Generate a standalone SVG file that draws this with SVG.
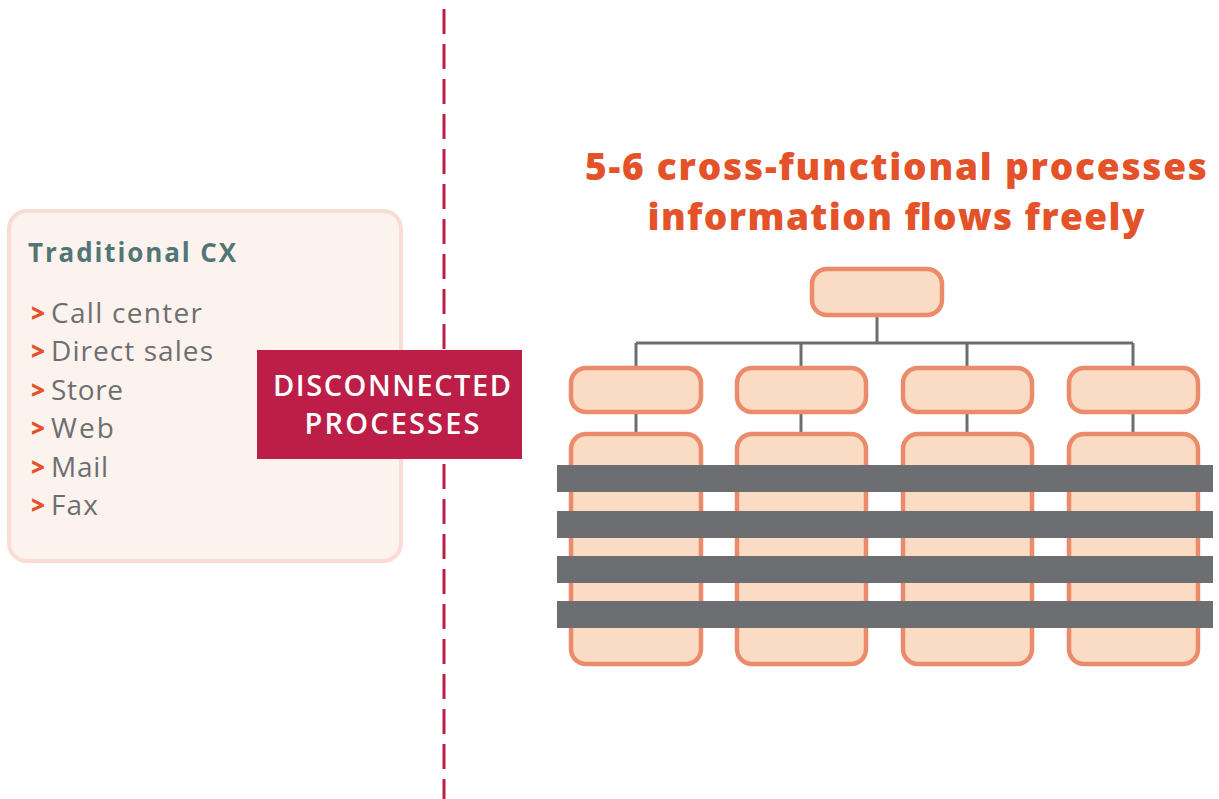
<svg xmlns="http://www.w3.org/2000/svg" width="1219" height="799" viewBox="0 0 1219 799">
<style>
.box{fill:#fadcc4;stroke:#ec8b6c;stroke-width:4.5}
.conn{stroke:#6d6e71;stroke-width:3;fill:none}
.bar{fill:#6d6e71}
.item{font-family:"Open Sans","Liberation Sans",sans-serif;font-size:28px;fill:#6d6e71}
.gt{font-family:"Open Sans","Liberation Sans",sans-serif;font-size:24px;font-weight:800;fill:#e4522a}
.title{font-family:"Open Sans","Liberation Sans",sans-serif;font-size:37px;font-weight:800;fill:#e4522a;text-anchor:middle}
.dis{font-family:"Open Sans","Liberation Sans",sans-serif;font-size:29px;font-weight:600;fill:#ffffff;text-anchor:middle}
</style>
<line x1="444" y1="9" x2="444" y2="799" stroke="#bd1e48" stroke-width="3" stroke-dasharray="25 10"/>
<g id="traditional-cx">
<rect x="9" y="211" width="392" height="350" rx="18" fill="#fdf3ee" stroke="#f9ddd4" stroke-width="4"/>
<text x="28" y="262" font-family="'Open Sans','Liberation Sans',sans-serif" font-size="26" font-weight="bold" fill="#527677" textLength="208">Traditional CX</text>
<text class="gt" x="31" y="322">&gt;</text><text class="item" x="51" y="323" textLength="151">Call center</text>
<text class="gt" x="31" y="360">&gt;</text><text class="item" x="51" y="361" textLength="162">Direct sales</text>
<text class="gt" x="31" y="399">&gt;</text><text class="item" x="51" y="400" textLength="72">Store</text>
<text class="gt" x="31" y="437">&gt;</text><text class="item" x="51" y="438" textLength="63">Web</text>
<text class="gt" x="31" y="476">&gt;</text><text class="item" x="51" y="477" textLength="57">Mail</text>
<text class="gt" x="31" y="514">&gt;</text><text class="item" x="51" y="515" textLength="47">Fax</text>
</g>
<g id="disconnected">
<rect x="257" y="350" width="265" height="109" fill="#bd1e48"/>
<text class="dis" x="392" y="396" textLength="238">DISCONNECTED</text>
<text class="dis" x="392" y="434" textLength="175">PROCESSES</text>
</g>
<g id="heading">
<text class="title" x="896" y="180" textLength="622">5-6 cross-functional processes</text>
<text class="title" x="896" y="230" textLength="497">information flows freely</text>
</g>
<g id="connectors">
<path class="conn" d="M877 315V343M636 343H1133M636 343V368M801 343V368M967 343V368M1133 343V368M636 412V434M801 412V434M967 412V434M1133 412V434"/>
</g>
<g id="node-top"><rect class="box" x="812" y="269" width="130" height="46" rx="15"/></g>
<g id="node-a1"><rect class="box" x="571" y="368" width="130" height="44" rx="15"/></g>
<g id="node-b1"><rect class="box" x="737" y="368" width="129" height="44" rx="15"/></g>
<g id="node-c1"><rect class="box" x="903" y="368" width="129" height="44" rx="15"/></g>
<g id="node-d1"><rect class="box" x="1069" y="368" width="129" height="44" rx="15"/></g>
<g id="node-a2"><rect class="box" x="571" y="434" width="130" height="230" rx="15"/></g>
<g id="node-b2"><rect class="box" x="737" y="434" width="129" height="230" rx="15"/></g>
<g id="node-c2"><rect class="box" x="903" y="434" width="129" height="230" rx="15"/></g>
<g id="node-d2"><rect class="box" x="1069" y="434" width="129" height="230" rx="15"/></g>
<g id="bars">
<rect class="bar" x="557" y="465" width="656" height="27"/>
<rect class="bar" x="557" y="511" width="656" height="27"/>
<rect class="bar" x="557" y="556" width="656" height="27"/>
<rect class="bar" x="557" y="601" width="656" height="27"/>
</g>
</svg>
